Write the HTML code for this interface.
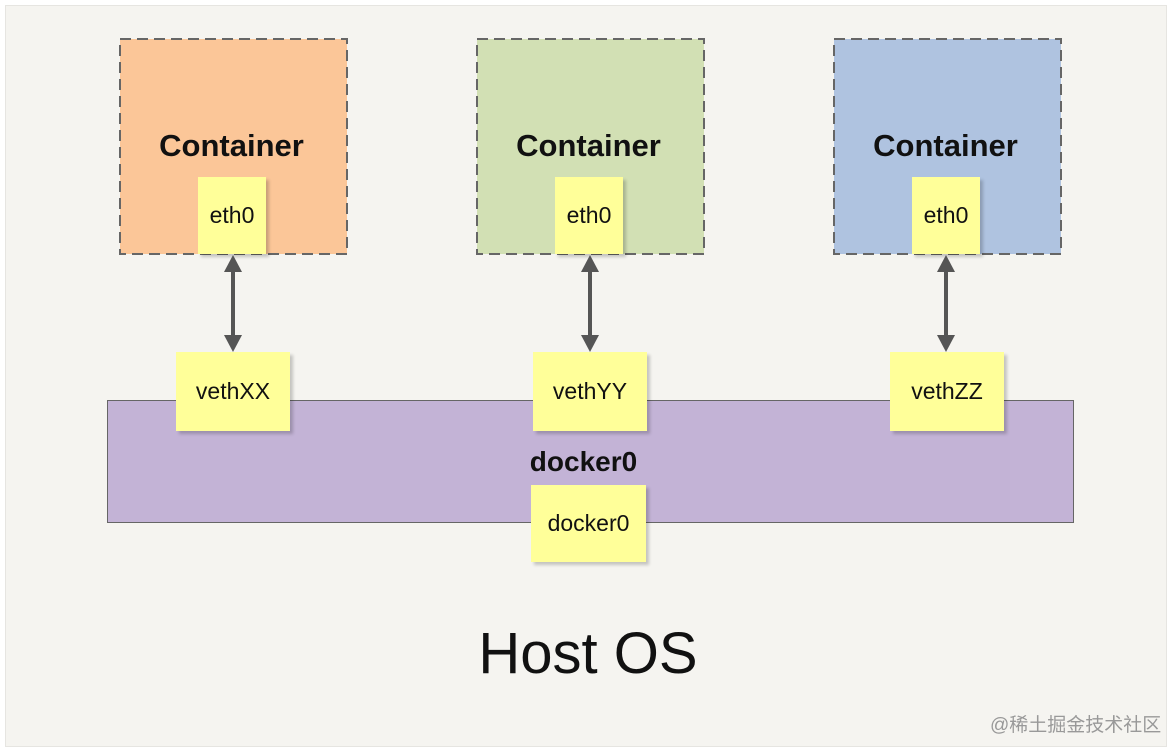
<!DOCTYPE html>
<html><head><meta charset="utf-8"><style>
body{margin:0;width:1176px;height:754px;background:#fff;position:relative;overflow:hidden;font-family:"Liberation Sans",Arial,sans-serif}
.a{position:absolute}
.panel{left:5px;top:5px;width:1162px;height:742px;background:#f5f4f0;border:1px solid #e6e5e1;box-sizing:border-box}
.ct{font-weight:bold;font-size:31px;width:229px;text-align:center;top:128px;color:#111}
.y{background:#ffff99;box-shadow:3px 3px 3px rgba(0,0,0,.2);display:flex;align-items:center;justify-content:center;font-size:23px;color:#111}
</style></head><body>
<div class="a panel"></div>
<div class="a" style="left:107px;top:400px;width:967px;height:123px;background:#c3b3d6;border:1px solid #666;box-sizing:border-box"></div>
<div class="a" style="left:100px;top:446px;width:967px;text-align:center;font-weight:bold;font-size:28px;color:#111">docker0</div>

<svg class="a" style="left:0;top:0" width="1176" height="754">
<g stroke="#666" stroke-width="2" stroke-dasharray="11,6">
<rect x="120" y="39" width="227" height="215" fill="#fbc698"/>
<rect x="477" y="39" width="227" height="215" fill="#d2e0b4"/>
<rect x="834" y="39" width="227" height="215" fill="#afc3e0"/>
</g></svg>
<div class="a ct" style="left:117px">Container</div>
<div class="a ct" style="left:474px">Container</div>
<div class="a ct" style="left:831px">Container</div>

<div class="a y" style="left:198px;top:177px;width:68px;height:77px">eth0</div>
<div class="a y" style="left:555px;top:177px;width:68px;height:77px">eth0</div>
<div class="a y" style="left:912px;top:177px;width:68px;height:77px">eth0</div>

<svg class="a" style="left:0;top:0" width="1176" height="754">
<g stroke="#555" stroke-width="4" fill="#555">
<line x1="233" y1="268" x2="233" y2="340"/><polygon points="233,255 224,272 242,272" stroke="none"/><polygon points="233,352 224,335 242,335" stroke="none"/>
<line x1="590" y1="268" x2="590" y2="340"/><polygon points="590,255 581,272 599,272" stroke="none"/><polygon points="590,352 581,335 599,335" stroke="none"/>
<line x1="946" y1="268" x2="946" y2="340"/><polygon points="946,255 937,272 955,272" stroke="none"/><polygon points="946,352 937,335 955,335" stroke="none"/>
</g></svg>

<div class="a y" style="left:176px;top:352px;width:114px;height:79px">vethXX</div>
<div class="a y" style="left:533px;top:352px;width:114px;height:79px">vethYY</div>
<div class="a y" style="left:890px;top:352px;width:114px;height:79px">vethZZ</div>
<div class="a y" style="left:531px;top:485px;width:115px;height:77px">docker0</div>

<div class="a" style="left:0;top:620px;width:1176px;text-align:center;font-size:58px;color:#111">Host OS</div>
<div class="a" style="left:990px;top:710px;font-size:19px;color:#999;font-family:'Liberation Sans','Noto Sans CJK SC',sans-serif">@稀土掘金技术社区</div>
</body></html>
